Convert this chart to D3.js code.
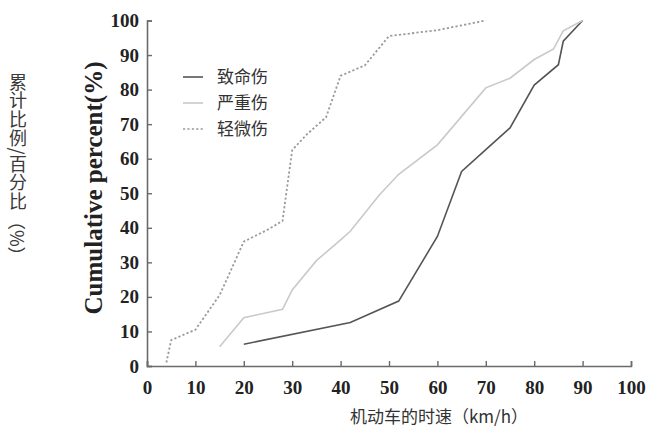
<!DOCTYPE html>
<html>
<head>
<meta charset="utf-8">
<script src="https://cdn.jsdelivr.net/npm/d3@7"></script>
<style>
  body { margin: 0; background: #fff; }
  svg { display: block; }
</style>
</head>
<body>
<svg id="chart"></svg>
<script>
var width = 660,
    height = 428,
    margin = { top: 20.5, right: 29, bottom: 62, left: 147 };

// speed (km/h) vs cumulative percent
var fatal = [[20, 6.3], [42, 12.6], [52, 18.8], [60, 37.5], [65, 56.3], [70, 62.6],
    [75, 68.9], [80, 81.3], [85, 87.2], [86, 94], [90, 100]];
var serious = [[15, 5.6], [20, 14], [28, 16.4], [30, 22], [35, 30.5], [40, 36.5],
    [42, 39], [48, 49.5], [52, 55.5], [60, 64], [70, 80.5], [75, 83.3], [80, 88.7],
    [84, 91.8], [86, 97], [90, 100]];
var minor = [[4, 1], [5, 7.5], [10, 10.5], [15, 20.5], [20, 36], [25, 39.5], [28, 42],
    [30, 62.5], [33, 67], [37, 72], [40, 84], [45, 87], [50, 95.5], [60, 97.2], [70, 100]];

var xTicks = [0, 10, 20, 30, 40, 50, 60, 70, 80, 90, 100];
var yTicks = [0, 10, 20, 30, 40, 50, 60, 70, 80, 90, 100];
var seriesNames = ['致命伤', '严重伤', '轻微伤'];
var seriesColors = ['#555555', '#c9c9c9', '#9a9a9a'];
var seriesDash = [null, null, '2.2,2.2'];

var svg = d3.select('#chart').attr('width', width).attr('height', height);

var x = d3.scaleLinear().domain([0, 100]).range([margin.left, width - margin.right]);
var y = d3.scaleLinear().domain([0, 100]).range([height - margin.bottom, margin.top]);

var serif = '"Liberation Serif", "Times New Roman", serif';
var cjk = '"Noto Sans CJK SC", sans-serif';

// axes, ticks point inwards
var xAxis = svg.append('g')
    .attr('transform', 'translate(0,' + y(0) + ')')
    .call(d3.axisBottom(x).tickValues(xTicks).tickSize(-5).tickPadding(12));
var yAxis = svg.append('g')
    .attr('transform', 'translate(' + x(0) + ',0)')
    .call(d3.axisLeft(y).tickValues(yTicks).tickSize(-5).tickPadding(8));

[xAxis, yAxis].forEach(function (g) {
    g.select('.domain').attr('stroke', '#6a6a6a').attr('stroke-width', 1.6);
    g.selectAll('.tick line').attr('stroke', '#6a6a6a').attr('stroke-width', 1.4);
    g.selectAll('.tick text')
        .style('font-family', serif)
        .style('font-weight', 'bold')
        .style('font-size', '19px')
        .attr('fill', '#222');
});
xAxis.selectAll('.tick text').attr('dy', '0.85em');

var line = d3.line()
    .x(function (d) { return x(d[0]); })
    .y(function (d) { return y(d[1]); });

[fatal, serious, minor].forEach(function (data, i) {
    svg.append('path')
        .attr('d', line(data))
        .attr('fill', 'none')
        .attr('stroke', seriesColors[i])
        .attr('stroke-width', i === 2 ? 1.8 : 1.6)
        .attr('stroke-dasharray', seriesDash[i]);
});

// legend
var legend = svg.append('g').attr('transform', 'translate(183,77)');
seriesNames.forEach(function (name, i) {
    var row = legend.append('g').attr('transform', 'translate(0,' + i * 26 + ')');
    row.append('line')
        .attr('x1', 0).attr('x2', 20)
        .attr('stroke', seriesColors[i])
        .attr('stroke-width', 1.6)
        .attr('stroke-dasharray', seriesDash[i]);
    row.append('text')
        .attr('x', 34)
        .attr('dy', '0.35em')
        .style('font-family', cjk)
        .style('font-size', '17px')
        .attr('fill', '#333')
        .text(name);
});

// axis titles
svg.append('text')
    .attr('transform', 'translate(102,188) rotate(-90)')
    .attr('text-anchor', 'middle')
    .style('font-family', serif)
    .style('font-weight', 'bold')
    .style('font-size', '25px')
    .attr('fill', '#222')
    .text('Cumulative percent(%)');

svg.append('text')
    .attr('x', 439)
    .attr('y', 417)
    .attr('text-anchor', 'middle')
    .attr('dy', '0.35em')
    .style('font-family', cjk)
    .style('font-size', '17px')
    .attr('fill', '#333')
    .text('机动车的时速（km/h）');

// vertical chinese title: characters stacked upright, the unit lies sideways
svg.append('text')
    .attr('x', 18)
    .attr('y', 73)
    .style('writing-mode', 'vertical-rl')
    .style('font-family', cjk)
    .style('font-size', '18px')
    .style('letter-spacing', '0.6px')
    .attr('fill', '#3a3a3a')
    .text('累计比例/百分比');

svg.append('text')
    .attr('transform', 'translate(18,212) rotate(90)')
    .style('dominant-baseline', 'central')
    .style('font-family', cjk)
    .style('font-size', '18px')
    .attr('fill', '#3a3a3a')
    .text('（%）');
</script>
</body>
</html>
